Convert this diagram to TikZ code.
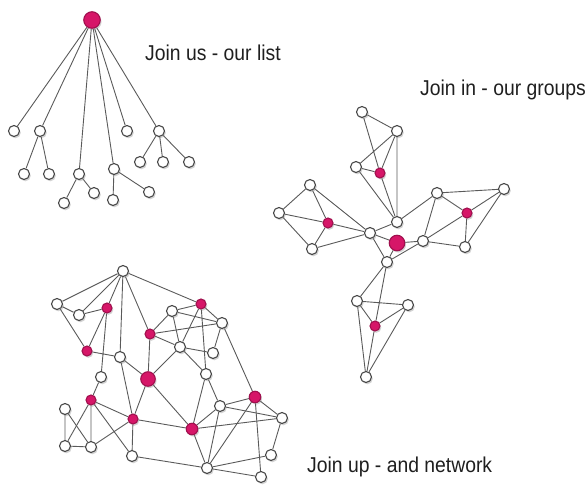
\documentclass[tikz,border=0pt]{standalone}
\usepackage{fontspec}
\usepackage{graphicx}
\setmainfont{Liberation Sans}
\usetikzlibrary{backgrounds,shadows}
\definecolor{joinpink}{RGB}{214,22,104}
\definecolor{linkgrey}{RGB}{72,72,72}

\begin{document}
\begin{tikzpicture}[x=1pt, y=-1pt, line cap=round, line join=round,
    wn/.style={circle, draw=linkgrey, line width=1.1pt, fill=white, inner sep=0pt, minimum size=11pt,
      drop shadow={shadow xshift=1.3pt, shadow yshift=-1.8pt, opacity=.35}},
    pn/.style={wn, draw=joinpink!75!black, fill=joinpink, minimum size=10pt},
    bigpn/.style={pn, minimum size=15.5pt},
    link/.style={draw=linkgrey!90, line width=.9pt},
    caption/.style={anchor=base west, inner sep=0pt, text=black!88, font=\fontsize{21.5}{25}\selectfont}]
  \useasboundingbox (0,0) rectangle (587,489);

  % Join us - the list
  \node[bigpn, minimum width=14.5pt, minimum height=16.5pt] (L0) at (92,20) {};
  \node[wn] (L1) at (14,131) {};
  \node[wn] (L2) at (40,131) {};
  \node[wn] (L3) at (79,174) {};
  \node[wn] (L4) at (114,169) {};
  \node[wn] (L5) at (127,131) {};
  \node[wn] (L6) at (159,131) {};
  \node[wn] (L21) at (24,174) {};
  \node[wn] (L22) at (49,174) {};
  \node[wn] (L31) at (64,203) {};
  \node[wn] (L32) at (94,193) {};
  \node[wn] (L41) at (113,200) {};
  \node[wn] (L42) at (149,192) {};
  \node[wn] (L61) at (140,162) {};
  \node[wn] (L62) at (163,162) {};
  \node[wn] (L63) at (189,162) {};

  % Join in - the groups
  \node[wn] (T1) at (362,112) {};
  \node[wn] (T2) at (397,131) {};
  \node[wn] (T3) at (356,167) {};
  \node[pn] (Tp) at (380,173) {};
  \node[wn] (H) at (397,222) {};
  \node[bigpn] (C) at (397,243) {};
  \node[wn] (W1) at (310,185) {};
  \node[wn] (W0) at (279,213) {};
  \node[pn] (Wp) at (328,223) {};
  \node[wn] (W2) at (312,249) {};
  \node[wn] (Wh) at (370,233) {};
  \node[wn] (E1) at (437,193) {};
  \node[wn] (E2) at (504,189) {};
  \node[pn] (Ep) at (467,213) {};
  \node[wn] (E3) at (465,247) {};
  \node[wn] (Eh) at (423,241) {};
  \node[wn] (Sh) at (387,262) {};
  \node[wn] (S1) at (357,301) {};
  \node[wn] (S2) at (408,305) {};
  \node[pn] (Sp) at (375,326) {};
  \node[wn] (S3) at (366,377) {};

  % Join up - the network
  \node[wn] (N1) at (123,271) {};
  \node[wn] (N2) at (57,304) {};
  \node[wn] (N3) at (79,315) {};
  \node[pn] (N4) at (107,308) {};
  \node[pn] (N5) at (150,334) {};
  \node[wn] (N6) at (172,311) {};
  \node[pn] (N7) at (201,304) {};
  \node[wn] (N8) at (222,323) {};
  \node[pn] (N9) at (87,351) {};
  \node[wn] (N10) at (120,357) {};
  \node[wn] (N11) at (180,347) {};
  \node[wn] (N12) at (213,353) {};
  \node[wn] (N13) at (101,377) {};
  \node[bigpn, minimum size=14.5pt] (N14) at (148,379) {};
  \node[wn] (N15) at (206,374) {};
  \node[pn] (N16) at (91,400) {};
  \node[wn] (N17) at (65,409) {};
  \node[pn] (N18) at (133,419) {};
  \node[pn, minimum size=11.5pt] (N19) at (255,397) {};
  \node[wn] (N20) at (220,406) {};
  \node[wn] (N21) at (282,418) {};
  \node[pn, minimum size=11.5pt] (N22) at (192,429) {};
  \node[wn] (N23) at (65,446) {};
  \node[wn] (N24) at (91,447) {};
  \node[wn] (N25) at (132,456) {};
  \node[wn] (N26) at (271,455) {};
  \node[wn] (N27) at (207,468) {};
  \node[wn] (N28) at (261,477) {};

  \begin{scope}[on background layer]
    \draw[link] (L0)--(L1) (L0)--(L2) (L0)--(L3) (L0)--(L4) (L0)--(L5) (L0)--(L6);
    \draw[link] (L2)--(L21) (L2)--(L22) (L3)--(L31) (L3)--(L32) (L4)--(L41) (L4)--(L42);
    \draw[link] (L6)--(L61) (L6)--(L62) (L6)--(L63);

    \draw[link] (T1)--(T2)--(T3)--cycle (T1)--(Tp) (T2)--(Tp)--(T3);
    \draw[link] (T2)--(H) (T3)--(H) (Tp)--(H);
    \draw[link] (W1)--(W0)--(W2)--cycle (W1)--(Wp)--(W0) (W2)--(Wp)--(Wh) (W1)--(Wh)--(W2);
    \draw[link] (E1)--(E2)--(E3)--cycle (E1)--(Ep)--(E2) (E3)--(Ep)--(Eh) (E1)--(Eh)--(E3);
    \draw[link] (Sh)--(S1)--(S2)--cycle (Sh)--(Sp) (S1)--(Sp)--(S2) (S1)--(S3)--(S2) (Sp)--(S3);
    \draw[link] (Wh)--(H) (Wh)--(C) (Wh)--(Sh) (H)--(E1) (C)--(Eh) (Sh)--(Eh) (Sh)--(C);

    \draw[link] (N1)--(N2) (N1)--(N3) (N1)--(N4) (N1)--(N10) (N1)--(N5) (N1)--(N7);
    \draw[link] (N2)--(N3)--(N4) (N2)--(N9)--(N4) (N4)--(N13) (N9)--(N10);
    \draw[link] (N10)--(N14) (N10)--(N18);
    \draw[link] (N5)--(N6)--(N7)--(N8) (N5)--(N8) (N6)--(N8) (N5)--(N11) (N5)--(N14);
    \draw[link] (N6)--(N11) (N7)--(N11) (N7)--(N15) (N8)--(N12) (N8)--(N19);
    \draw[link] (N11)--(N12) (N11)--(N15) (N11)--(N14);
    \draw[link] (N14)--(N18) (N14)--(N22) (N15)--(N20) (N15)--(N22);
    \draw[link] (N13)--(N16) (N16)--(N18) (N16)--(N23) (N16)--(N24) (N16)--(N25);
    \draw[link] (N18)--(N22) (N18)--(N24) (N18)--(N25);
    \draw[link] (N17)--(N23)--(N24)--(N17);
    \draw[link] (N19)--(N20) (N19)--(N21) (N19)--(N27) (N19)--(N28);
    \draw[link] (N20)--(N21) (N20)--(N22) (N20)--(N27) (N22)--(N21) (N22)--(N27);
    \draw[link] (N21)--(N26)--(N27)--(N28) (N25)--(N27);
  \end{scope}

  \node[caption] at (145,61) {\scalebox{.9}[1]{Join us - our list}};
  \node[caption] at (420,96) {\scalebox{.9}[1]{Join in - our groups}};
  \node[caption] at (307,472) {\scalebox{.9}[1]{Join up - and network}};
\end{tikzpicture}
\end{document}
